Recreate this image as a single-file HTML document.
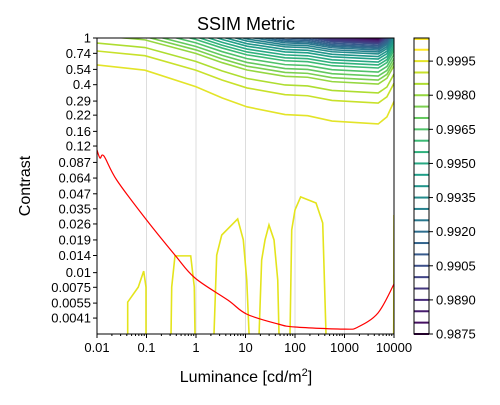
<!DOCTYPE html>
<html><head><meta charset="utf-8"><style>
body{margin:0;background:#fff}
svg{font-family:"Liberation Sans","DejaVu Sans",sans-serif}
</style></head><body>
<svg id="c" width="500" height="400" xmlns="http://www.w3.org/2000/svg"></svg>
<script>
const xTicks=[0.01,0.1,1,10,100,1000,10000];
const xTickLabels=["0.01","0.1","1","10","100","1000","10000"];
const yTicks=[1,0.74,0.54,0.4,0.29,0.22,0.16,0.12,0.087,0.064,0.047,0.035,0.026,0.019,0.014,0.01,0.0075,0.0055,0.0041];
const cbTicks=[0.9995,0.998,0.9965,0.995,0.9935,0.992,0.9905,0.989,0.9875];
const cbTickLabels=["0.9995","0.9980","0.9965","0.9950","0.9935","0.9920","0.9905","0.9890","0.9875"];
const levels=[0.9995,0.999,0.9985,0.998,0.9975,0.997,0.9965,0.996,0.9955,0.995,0.9945,0.994,0.9935,0.993,0.9925,0.992,0.9915,0.991,0.9905,0.99,0.9895,0.989,0.9885,0.988,0.9875];
const levelPlateau=[0.185,0.279,0.340,0.405,0.438,0.474,0.513,0.555,0.589,0.624,0.662,0.695,0.731,0.760,0.790,0.814,0.838,0.863,0.889,0.906,0.924,0.942,0.962,0.975,0.988];
const levelLeft=[0.59,0.775,0.906,1.05,1.12,1.19,1.27,1.35,1.42,1.5,1.58,1.66,1.75,1.83,1.92,2.0,2.1,2.2,2.3,2.4,2.5,2.6,2.7,2.8,2.9];
const shapeLum=[0.01,0.093,1,3.4,10.7,63,180,560,4800,7200,10000];
const shapeT=[0,0.09,0.37,0.56,0.71,0.84,0.86,0.95,1,0.88,0.62];
const loops=[
 [[0.0417,0.003],[0.0417,0.00561],[0.0682,0.00753],[0.0877,0.0103],[0.0977,0.00753],[0.0977,0.003]],
 [[0.313,0.003],[0.323,0.00753],[0.376,0.0139],[0.782,0.0139],[0.924,0.00753],[0.955,0.003]],
 [[2.31,0.003],[2.62,0.0141],[3.31,0.0209],[6.95,0.0287],[9.03,0.019],[10.6,0.00865],[11.8,0.003]],
 [[18.8,0.003],[21.2,0.0128],[24.8,0.019],[29.8,0.0255],[37.7,0.019],[44.8,0.00865],[47.5,0.003]],
 [[79.3,0.003],[85.8,0.0231],[100,0.0342],[130,0.0442],[266,0.0392],[363,0.0265],[423,0.003]],
 [[9860,0.003],[10000,0.031]]];
const redLum=[0.01,0.0115,0.0138,0.025,0.0933,0.376,0.955,4.42,10.6,45.4,100,1020,1875,4750,10000];
const redC=[0.111,0.0948,0.0986,0.0616,0.0292,0.0141,0.009,0.00583,0.00443,0.00365,0.00344,0.0033,0.00344,0.00453,0.008];

const X0=97,X1=394,Y0=38,Y1=334;
const lx=v=>X0+(Math.log10(v)+2)/6*(X1-X0);
const ly=v=>Y0+(-Math.log10(v))/2.523*(Y1-Y0);
const cbY=v=>334-(v-0.9875)/0.0005*11.37;
const svg=document.getElementById('c');
const NS="http://www.w3.org/2000/svg";
function mk(t,a,p){const e=document.createElementNS(NS,t);for(const k in a)e.setAttribute(k,a[k]);(p||svg).appendChild(e);return e;}
const vir=[[68,1,84],[72,40,120],[62,74,137],[49,104,142],[38,130,142],[31,158,137],[53,183,121],[109,205,89],[180,222,44],[253,231,37]];
function vcol(t){t=Math.max(0,Math.min(1,t));const f=t*9,i=Math.min(8,Math.floor(f)),r=f-i;const a=vir[i],b=vir[i+1];return `rgb(${a.map((c,k)=>Math.round(c+(b[k]-c)*r)).join(',')})`;}
const lvT=v=>(v-0.9875)/0.0125;
function smooth(p){let d=`M${p[0][0]},${p[0][1]}`;for(let i=0;i<p.length-1;i++){const a=p[Math.max(0,i-1)],b=p[i],c=p[i+1],e=p[Math.min(p.length-1,i+2)];
 d+=` C${b[0]+(c[0]-a[0])/6},${b[1]+(c[1]-a[1])/6} ${c[0]-(e[0]-b[0])/6},${c[1]-(e[1]-b[1])/6} ${c[0]},${c[1]}`;}return d;}

let t=mk('text',{x:246,y:30,'text-anchor':'middle','font-size':18,fill:'#000'});t.textContent='SSIM Metric';

t=mk('text',{x:246,y:382,'text-anchor':'middle','font-size':16});t.innerHTML='Luminance [cd/m<tspan dy="-6" font-size="11">2</tspan><tspan dy="6">]</tspan>';

t=mk('text',{x:30,y:186,'text-anchor':'middle','font-size':16,transform:'rotate(-90 30 186)'});t.textContent='Contrast';


const g=mk('g',{});
xTicks.forEach(v=>mk('line',{x1:lx(v),x2:lx(v),y1:Y0,y2:Y1,stroke:'#ddd','stroke-width':1},g));

const clip=mk('clipPath',{id:'pc'});mk('rect',{x:X0,y:Y0,width:X1-X0,height:Y1-Y0},clip);
const plot=mk('g',{'clip-path':'url(#pc)'});

levels.forEach((lv,i)=>{
 const a=Math.log10(levelLeft[i]),b=Math.log10(levelPlateau[i]);
 const pts=shapeLum.map((L,k)=>lx(L)+','+ly(Math.pow(10,a+(b-a)*shapeT[k]))).join(' ');
 const p=mk('polyline',{points:pts,fill:'none',stroke:vcol(lvT(lv)),'stroke-width':1.6},plot);
 
 
});
loops.forEach((lp,i)=>{
 const p=mk('polyline',{points:lp.map(q=>lx(q[0])+','+ly(q[1])).join(' '),fill:'none',stroke:'#e4e41c','stroke-width':1.6},plot);
 
 
});
const red=mk('path',{d:smooth(redLum.map((L,k)=>[lx(L),ly(redC[k])])),fill:'none',stroke:'#f00','stroke-width':1.2},plot);



const fr=mk('rect',{x:X0,y:Y0,width:X1-X0,height:Y1-Y0,fill:'none',stroke:'#000','stroke-width':1});

xTicks.forEach((v,i)=>{
 mk('line',{x1:lx(v),x2:lx(v),y1:Y1,y2:Y1+4,stroke:'#000'});
 const tt=mk('text',{x:lx(v),y:Y1+18,'text-anchor':'middle','font-size':13});tt.textContent=xTickLabels[i];
 
 if(i<xTicks.length-1)for(let m=2;m<10;m++)mk('line',{x1:lx(v*m),x2:lx(v*m),y1:Y1,y2:Y1+2,stroke:'#000'});
});
yTicks.forEach(v=>{
 mk('line',{x1:X0-4,x2:X0,y1:ly(v),y2:ly(v),stroke:'#000'});
 const tt=mk('text',{x:X0-6,y:ly(v)+4.5,'text-anchor':'end','font-size':13});tt.textContent=String(v);
 
});
const cb=mk('g',{});
mk('line',{x1:414,x2:429,y1:39,y2:39,stroke:vcol(1.02),'stroke-width':2},cb);
levels.concat([1.0]).forEach(lv=>mk('line',{x1:414,x2:429,y1:cbY(lv),y2:cbY(lv),stroke:vcol(lvT(lv)),'stroke-width':2},cb));
mk('rect',{x:414,y:38,width:15,height:296,fill:'none',stroke:'#000'},cb);
cbTicks.forEach((v,i)=>{
 mk('line',{x1:429,x2:433,y1:cbY(v),y2:cbY(v),stroke:'#000'},cb);
 const tt=mk('text',{x:436,y:cbY(v)+4.5,'font-size':13},cb);tt.textContent=cbTickLabels[i];
 
});
</script>
</body></html>
